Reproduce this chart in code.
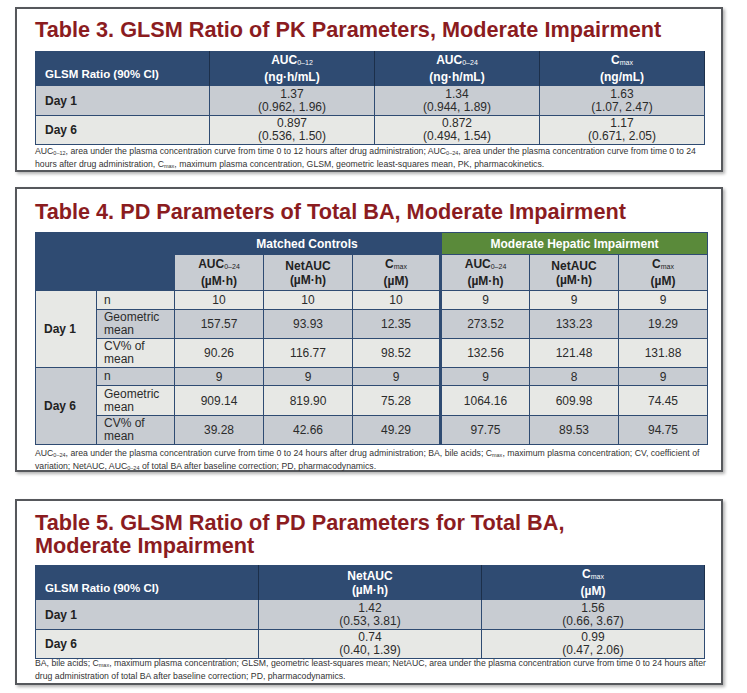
import React from "react";

// ---- Table 3 data ----
const pkCols = [
  { base: "AUC", sub: "0–12", unit: "(ng·h/mL)" },
  { base: "AUC", sub: "0–24", unit: "(ng·h/mL)" },
  { base: "C", sub: "max", unit: "(ng/mL)" },
];
const pkDays = ["Day 1", "Day 6"];
const pkEst = [
  ["1.37", "1.34", "1.63"],
  ["0.897", "0.872", "1.17"],
];
const pkCI = [
  ["(0.962, 1.96)", "(0.944, 1.89)", "(1.07, 2.47)"],
  ["(0.536, 1.50)", "(0.494, 1.54)", "(0.671, 2.05)"],
];

// ---- Table 4 data ----
const pdGroups = ["Matched Controls", "Moderate Hepatic Impairment"];
const pdCols = [
  { base: "AUC", sub: "0–24", unit: "(µM·h)" },
  { base: "NetAUC", sub: "", unit: "(µM·h)" },
  { base: "C", sub: "max", unit: "(µM)" },
];
const pdStats = [["n"], ["Geometric", "mean"], ["CV% of", "mean"]];
const pdDay1 = [
  ["10", "10", "10", "9", "9", "9"],
  ["157.57", "93.93", "12.35", "273.52", "133.23", "19.29"],
  ["90.26", "116.77", "98.52", "132.56", "121.48", "131.88"],
];
const pdDay6 = [
  ["9", "9", "9", "9", "8", "9"],
  ["909.14", "819.90", "75.28", "1064.16", "609.98", "74.45"],
  ["39.28", "42.66", "49.29", "97.75", "89.53", "94.75"],
];

// ---- Table 5 data ----
const ratioCols = [
  { base: "NetAUC", sub: "", unit: "(µM·h)" },
  { base: "C", sub: "max", unit: "(µM)" },
];
const ratioEst = [
  ["1.42", "1.56"],
  ["0.74", "0.99"],
];
const ratioCI = [
  ["(0.53, 3.81)", "(0.66, 3.67)"],
  ["(0.40, 1.39)", "(0.47, 2.06)"],
];

const NAVY = "#2f4b72";
const GREEN = "#5a8a3a";
const GRAY = "#c8ccd2";
const LIGHT = "#e7e8e5";
const RED = "#8b1c1f";
const FONT = "'Liberation Sans', Arial, sans-serif";
const CELL = 12;

const Sub = ({ s }: { s: string }) =>
  s ? (
    <span style={{ fontSize: 7, fontWeight: 400, verticalAlign: -1 }}>{s}</span>
  ) : null;

function Box({ top, height, children }: { top: number; height: number; children: React.ReactNode }) {
  return (
    <div
      style={{
        position: "absolute",
        left: 15,
        top,
        width: 708,
        height,
        boxSizing: "border-box",
        border: "2px solid #56585c",
        background: "#fff",
        boxShadow: "2px 2px 3px rgba(0,0,0,0.3)",
        fontFamily: FONT,
      }}
    >
      {children}
    </div>
  );
}

const titleStyle = (top: number, lh: number): React.CSSProperties => ({
  position: "absolute",
  left: 18,
  top,
  color: RED,
  fontWeight: 700,
  fontSize: 21.7,
  lineHeight: `${lh}px`,
  whiteSpace: "nowrap",
});

const noteStyle = (top: number): React.CSSProperties => ({
  position: "absolute",
  left: 18,
  top,
  fontSize: 8.7,
  lineHeight: "11px",
  color: "#333",
  whiteSpace: "nowrap",
});

const SS = ({ c }: { c: string }) => <sub style={{ fontSize: 5.5, verticalAlign: -1 }}>{c}</sub>;

function Table3() {
  const widths = [174, 165, 165, 165];
  const rowH = [30, 29];
  return (
    <table
      style={{
        position: "absolute",
        left: 18,
        top: 42,
        width: 669,
        borderCollapse: "collapse",
        tableLayout: "fixed",
        fontSize: CELL,
        border: `1px solid ${NAVY}`,
      }}
    >
      <colgroup>
        {widths.map((w, i) => (
          <col key={i} style={{ width: w }} />
        ))}
      </colgroup>
      <tbody>
        <tr style={{ height: 32, background: NAVY, color: "#fff", fontWeight: 700 }}>
          <td style={{ paddingLeft: 9, verticalAlign: "bottom", paddingBottom: 5, fontSize: 11.5, borderRight: "1px solid #1c2f4a" }}>
            GLSM Ratio (90% CI)
          </td>
          {pkCols.map((c, i) => (
            <td key={i} style={{ textAlign: "center", lineHeight: "14px", borderRight: "1px solid #1c2f4a" }}>
              {c.base}
              <Sub s={c.sub} />
              <br />
              {c.unit}
            </td>
          ))}
        </tr>
        {pkDays.map((d, r) => (
          <tr key={d} style={{ height: rowH[r], background: r === 0 ? GRAY : LIGHT, color: "#2b2b2b" }}>
            <td style={{ paddingLeft: 9, fontWeight: 700, color: "#222", border: `1px solid ${NAVY}` }}>{d}</td>
            {pkEst[r].map((v, i) => (
              <td key={i} style={{ textAlign: "center", lineHeight: "13px", border: `1px solid ${NAVY}` }}>
                {v}
                <br />
                {pkCI[r][i]}
              </td>
            ))}
          </tr>
        ))}
      </tbody>
    </table>
  );
}

function Table4() {
  const widths = [61, 78, 89, 89, 88, 89, 89, 89];
  const day1H = [19, 29, 29];
  const day6H = [18, 30, 29];
  const cb = `1px solid ${NAVY}`;
  const renderDay = (label: string, rows: string[][], hs: number[], startGray: boolean) =>
    rows.map((vals, r) => {
      const bg = (r % 2 === 0) === !startGray ? LIGHT : GRAY;
      return (
        <tr key={label + r} style={{ height: hs[r], color: "#2b2b2b" }}>
          {r === 0 && (
            <td
              rowSpan={3}
              style={{
                background: startGray ? GRAY : LIGHT,
                fontWeight: 700,
                color: "#222",
                paddingLeft: 8,
                border: cb,
              }}
            >
              {label}
            </td>
          )}
          <td style={{ background: bg, paddingLeft: 7, lineHeight: "13px", border: cb }}>
            {pdStats[r].map((s, k) => (
              <React.Fragment key={k}>
                {k > 0 && <br />}
                {s}
              </React.Fragment>
            ))}
          </td>
          {vals.map((v, i) => (
            <td
              key={i}
              style={{
                background: bg,
                textAlign: "center",
                border: cb,
                borderLeft: i === 3 ? `3px solid ${NAVY}` : cb,
              }}
            >
              {v}
            </td>
          ))}
        </tr>
      );
    });
  return (
    <table
      style={{
        position: "absolute",
        left: 18,
        top: 43,
        width: 672,
        borderCollapse: "collapse",
        tableLayout: "fixed",
        fontSize: CELL,
        border: cb,
      }}
    >
      <colgroup>
        {widths.map((w, i) => (
          <col key={i} style={{ width: w }} />
        ))}
      </colgroup>
      <tbody>
        <tr style={{ height: 22, color: "#fff", fontWeight: 700 }}>
          <td colSpan={2} rowSpan={2} style={{ background: NAVY, border: cb }} />
          {pdGroups.map((g, i) => (
            <td
              key={g}
              colSpan={3}
              style={{
                background: i === 0 ? NAVY : GREEN,
                textAlign: "center",
                border: cb,
                borderLeft: i === 1 ? `3px solid ${NAVY}` : cb,
              }}
            >
              {g}
            </td>
          ))}
        </tr>
        <tr style={{ height: 36, background: GRAY, color: "#222", fontWeight: 700 }}>
          {[...pdCols, ...pdCols].map((c, i) => (
            <td
              key={i}
              style={{
                textAlign: "center",
                lineHeight: "14px",
                border: cb,
                borderLeft: i === 3 ? `3px solid ${NAVY}` : cb,
              }}
            >
              {c.base}
              <Sub s={c.sub} />
              <br />
              {c.unit}
            </td>
          ))}
        </tr>
        {renderDay("Day 1", pdDay1, day1H, false)}
        {renderDay("Day 6", pdDay6, day6H, true)}
      </tbody>
    </table>
  );
}

function Table5() {
  const widths = [223, 223, 223];
  const rowH = [30, 29];
  return (
    <table
      style={{
        position: "absolute",
        left: 18,
        top: 64,
        width: 669,
        borderCollapse: "collapse",
        tableLayout: "fixed",
        fontSize: CELL,
        border: `1px solid ${NAVY}`,
      }}
    >
      <colgroup>
        {widths.map((w, i) => (
          <col key={i} style={{ width: w }} />
        ))}
      </colgroup>
      <tbody>
        <tr style={{ height: 32, background: NAVY, color: "#fff", fontWeight: 700 }}>
          <td style={{ paddingLeft: 9, verticalAlign: "bottom", paddingBottom: 5, fontSize: 11.5, borderRight: "1px solid #1c2f4a" }}>
            GLSM Ratio (90% CI)
          </td>
          {ratioCols.map((c, i) => (
            <td key={i} style={{ textAlign: "center", lineHeight: "14px", borderRight: "1px solid #1c2f4a" }}>
              {c.base}
              <Sub s={c.sub} />
              <br />
              {c.unit}
            </td>
          ))}
        </tr>
        {pkDays.map((d, r) => (
          <tr key={d} style={{ height: rowH[r], background: r === 0 ? GRAY : LIGHT, color: "#2b2b2b" }}>
            <td style={{ paddingLeft: 9, fontWeight: 700, color: "#222", border: `1px solid ${NAVY}` }}>{d}</td>
            {ratioEst[r].map((v, i) => (
              <td key={i} style={{ textAlign: "center", lineHeight: "13px", border: `1px solid ${NAVY}` }}>
                {v}
                <br />
                {ratioCI[r][i]}
              </td>
            ))}
          </tr>
        ))}
      </tbody>
    </table>
  );
}

export default function App() {
  return (
    <div style={{ position: "relative", width: 747, height: 693, background: "#fff" }}>
      <style>{`body{margin:0}`}</style>
      <Box top={7} height={165}>
        <div style={titleStyle(8, 26)}>Table 3. GLSM Ratio of PK Parameters, Moderate Impairment</div>
        <Table3 />
        <div style={noteStyle(137)}>
          AUC<SS c="0–12" />, area under the plasma concentration curve from time 0 to 12 hours after drug
          administration; AUC<SS c="0–24" />, area under the plasma concentration curve from time 0 to 24
          <br />
          hours after drug administration, C<SS c="max" />, maximum plasma concentration, GLSM, geometric
          least-squares mean, PK, pharmacokinetics.
        </div>
      </Box>
      <Box top={187} height={285}>
        <div style={titleStyle(10, 26)}>Table 4. PD Parameters of Total BA, Moderate Impairment</div>
        <Table4 />
        <div style={noteStyle(259)}>
          AUC<SS c="0–24" />, area under the plasma concentration curve from time 0 to 24 hours after drug
          administration; BA, bile acids; C<SS c="max" />, maximum plasma concentration; CV, coefficient of
          <br />
          variation; NetAUC, AUC<SS c="0–24" /> of total BA after baseline correction; PD, pharmacodynamics.
        </div>
      </Box>
      <Box top={499} height={186}>
        <div style={titleStyle(9.5, 23)}>
          Table 5. GLSM Ratio of PD Parameters for Total BA,
          <br />
          Moderate Impairment
        </div>
        <Table5 />
        <div style={noteStyle(157)}>
          BA, bile acids; C<SS c="max" />, maximum plasma concentration; GLSM, geometric least-squares mean;
          NetAUC, area under the plasma concentration curve from time 0 to 24 hours after
          <br />
          drug administration of total BA after baseline correction; PD, pharmacodynamics.
        </div>
      </Box>
    </div>
  );
}
